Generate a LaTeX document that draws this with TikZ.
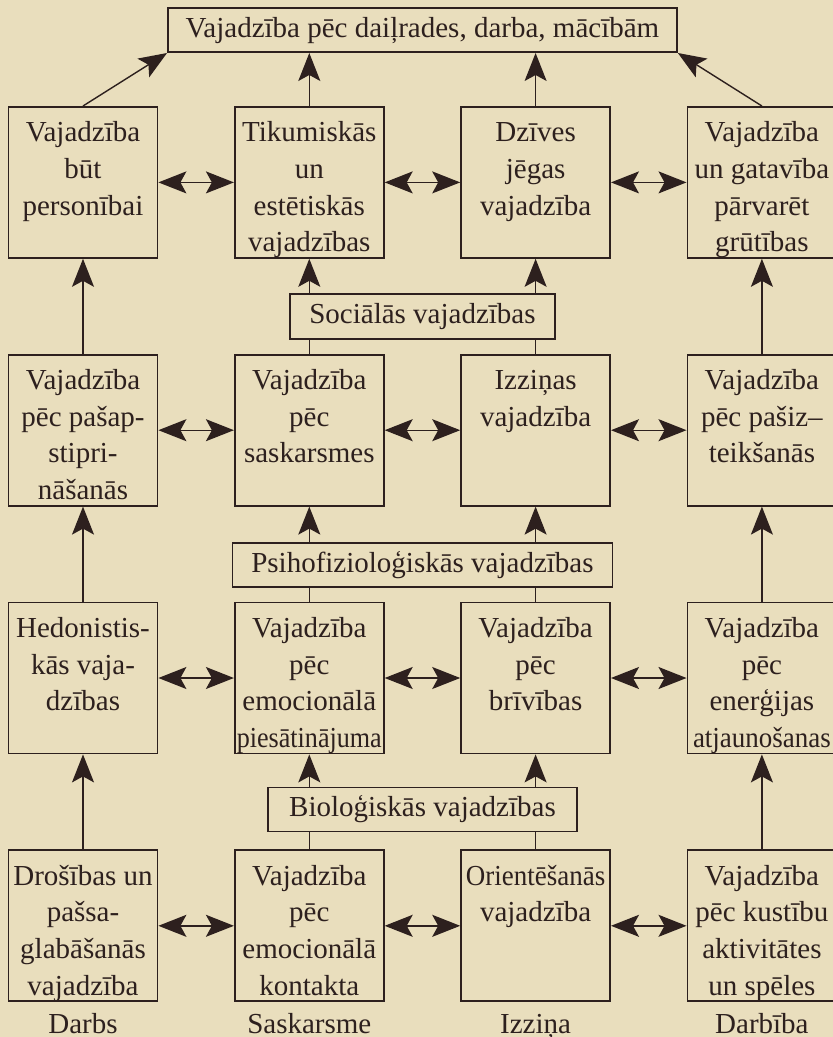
\documentclass[tikz,border=0pt]{standalone}
\usepackage{fontspec}
\setmainfont{Liberation Serif}
\usepackage{graphicx}
\usetikzlibrary{arrows.meta,positioning,calc}
\definecolor{paper}{RGB}{233,222,189}
\definecolor{ink}{RGB}{45,32,30}
\newcommand{\cell}[1]{\parbox[t][75.5pt][t]{74.5pt}{\centering\rule{0pt}{17.5pt}#1}}
\newcommand{\squeeze}[2]{\scalebox{#1}[1]{#2}}

\begin{document}
\begin{tikzpicture}[node distance=47.5pt and 37.75pt,
  >={Stealth[length=14pt,width=11pt,inset=3pt]},
  box/.style={draw=ink,line width=0.9pt,inner sep=0pt,text=ink,
              font=\fontsize{14.5}{18.3}\selectfont},
  cat/.style={draw=ink,line width=0.9pt,inner sep=0pt,minimum height=22pt,text=ink,
              font=\fontsize{14.5}{18.3}\selectfont},
  lab/.style={inner sep=0pt,text=ink,font=\fontsize{14.5}{18.3}\selectfont},
  ar/.style={->,draw=ink,line width=0.7pt},
  dar/.style={<->,draw=ink,line width=0.7pt}]
  \fill[paper] (0,0) rectangle (416.5pt,-518.5pt);
  \useasboundingbox (0,0) rectangle (416.5pt,-518.5pt);
  % row 1
  \node[box,anchor=north] (r1a) at (41.5pt,-53pt) {\cell{Vajadzība\\būt\\personībai}};
  \node[box,right=of r1a] (r1b) {\cell{Tikumiskās\\un\\estētiskās\\vajadzības}};
  \node[box,right=of r1b] (r1c) {\cell{Dzīves\\jēgas\\vajadzība}};
  \node[box,right=of r1c] (r1d) {\cell{Vajadzība\\un gatavība\\pārvarēt\\grūtības}};
  % row 2
  \node[box,below=of r1a] (r2a) {\cell{Vajadzība\\pēc pašap-\\stipri-\\nāšanās}};
  \node[box,right=of r2a] (r2b) {\cell{Vajadzība\\pēc\\saskarsmes}};
  \node[box,right=of r2b] (r2c) {\cell{Izziņas\\vajadzība}};
  \node[box,right=of r2c] (r2d) {\cell{Vajadzība\\pēc pašiz–\\teikšanās}};
  % row 3
  \node[box,below=of r2a] (r3a) {\cell{Hedonistis-\\kās vaja-\\dzības}};
  \node[box,right=of r3a] (r3b) {\cell{Vajadzība\\pēc\\emocionālā\\\squeeze{0.9}{piesātinājuma}}};
  \node[box,right=of r3b] (r3c) {\cell{Vajadzība\\pēc\\brīvības}};
  \node[box,right=of r3c] (r3d) {\cell{Vajadzība\\pēc\\enerģijas\\\squeeze{0.93}{atjaunošanas}}};
  % row 4
  \node[box,below=of r3a] (r4a) {\cell{Drošības un\\pašsa-\\glabāšanās\\vajadzība}};
  \node[box,right=of r4a] (r4b) {\cell{Vajadzība\\pēc\\emocionālā\\kontakta}};
  \node[box,right=of r4b] (r4c) {\cell{\squeeze{0.93}{Orientēšanās}\\vajadzība}};
  \node[box,right=of r4c] (r4d) {\cell{Vajadzība\\pēc kustību\\aktivitātes\\un spēles}};
  % group boxes
  \node[cat,minimum width=254.5pt,anchor=south] (top) at ($(r1b.north)!.5!(r1c.north)+(0,26.5pt)$)
    {Vajadzība pēc daiļrades, darba, mācībām};
  \node[cat,minimum width=132.5pt,minimum height=22.5pt,anchor=south] (soc) at ($(r2b.north)!.5!(r2c.north)+(0,7pt)$)
    {Sociālās vajadzības};
  \node[cat,minimum width=190pt,anchor=south] (psy) at ($(r3b.north)!.5!(r3c.north)+(0,7pt)$)
    {Psihofizioloģiskās vajadzības};
  \node[cat,minimum width=154.5pt,anchor=south] (bio) at ($(r4b.north)!.5!(r4c.north)+(0,8.5pt)$)
    {Bioloģiskās vajadzības};
  % column labels
  \foreach \c/\t in {a/Darbs,b/Saskarsme,c/Izziņa,d/Darbība}
    \node[lab,anchor=base] (l\c) at ([yshift=-15.5pt]r4\c.south) {\t};
  % arrows
  \foreach \r in {1,...,4}
    \foreach \a/\b in {a/b,b/c,c/d} \draw[dar] (r\r\a) -- (r\r\b);
  \foreach \c in {a,d}
    \foreach \lo/\hi in {2/1,3/2,4/3} \draw[ar] (r\lo\c) -- (r\hi\c);
  \foreach \c in {b,c}
    \foreach \lo/\hi/\k in {2/1/soc,3/2/psy,4/3/bio} {
      \draw[draw=ink,line width=0.7pt] (r\lo\c.north) -- (r\lo\c.north |- \k.south);
      \draw[ar] (r\hi\c.south |- \k.north) -- (r\hi\c.south);
    }
  \draw[ar] (r1a.north) -- (top.south west);
  \draw[ar] (r1b.north) -- (r1b.north |- top.south);
  \draw[ar] (r1c.north) -- (r1c.north |- top.south);
  \draw[ar] (r1d.north) -- (top.south east);
\end{tikzpicture}
\end{document}
